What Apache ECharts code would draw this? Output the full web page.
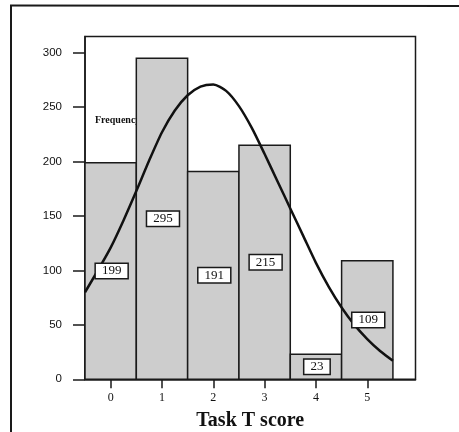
<!DOCTYPE html>
<html>
<head>
<meta charset="utf-8">
<script src="https://cdn.jsdelivr.net/npm/echarts@6/dist/echarts.min.js"></script>
<style>html,body{margin:0;padding:0;background:#fff}#c{width:459px;height:432px}</style>
</head>
<body>
<div id="c"></div>
<script>
// Data
const scores = [0, 1, 2, 3, 4, 5];
const counts = [199, 295, 191, 215, 23, 109];
const xTicks = [0, 1, 2, 3, 4, 5];
const yTicks = [0, 50, 100, 150, 200, 250, 300];
// fitted normal curve
const curveX = [-0.5, -0.25, 0, 0.25, 0.5, 0.75, 1.0, 1.25, 1.5, 1.75, 2.0, 2.25, 2.5, 2.75, 3.0, 3.25, 3.5, 3.75, 4.0, 4.25, 4.5, 4.75, 5.0, 5.25, 5.5];
const curveY = [80, 100, 121, 146, 173, 201, 227, 247, 261, 269, 271, 265, 251, 231, 207, 182, 157, 132, 107, 85, 66, 50, 37, 26, 17];

const chart = echarts.init(document.getElementById('c'), null, {renderer: 'canvas'});

const barData = scores.map((s, i) => [s, counts[i]]);
const curveData = curveX.map((x, i) => [x, curveY[i]]);

const option = {
  animation: false,
  backgroundColor: '#fff',
  grid: {
    left: 85, top: 36.5, right: 43.5, bottom: 52.7,
    outerBoundsMode: 'none', containLabel: false,
    show: true, borderColor: '#1a1a1a', borderWidth: 1.5, backgroundColor: 'transparent'
  },
  xAxis: {
    type: 'value', min: -0.5, max: 5.94,
    name: 'Task T score', nameLocation: 'middle', nameGap: 32,
    nameTextStyle: {fontFamily: 'Liberation Serif', fontWeight: 'bold', fontSize: 20, color: '#111'},
    axisLine: {show: true, onZero: false, lineStyle: {color: '#1a1a1a', width: 1.5}},
    axisTick: {show: true, customValues: xTicks, length: 9, lineStyle: {color: '#1a1a1a', width: 1.5}},
    axisLabel: {customValues: xTicks, margin: 13, fontFamily: 'Liberation Serif', fontSize: 12, color: '#111'},
    splitLine: {show: false}
  },
  yAxis: {
    type: 'value', min: 0, max: 315,
    axisLine: {show: true, onZero: false, lineStyle: {color: '#1a1a1a', width: 1.5}},
    axisTick: {show: true, customValues: yTicks, length: 12, lineStyle: {color: '#1a1a1a', width: 1.5}},
    axisLabel: {customValues: yTicks, margin: 23, fontFamily: 'Liberation Sans', fontSize: 11.5, color: '#111'},
    splitLine: {show: false}
  },
  graphic: [
    {type: 'text', z: 0, left: 95, top: 115, style: {text: 'Frequency', font: 'bold 10px "Liberation Serif"', fill: '#111'}},
    {type: 'line', z: 10, shape: {x1: 11, y1: 5.5, x2: 11, y2: 432}, style: {stroke: '#1a1a1a', lineWidth: 2}},
    {type: 'line', z: 10, shape: {x1: 10, y1: 5.5, x2: 459, y2: 6}, style: {stroke: '#1a1a1a', lineWidth: 2}}
  ],
  series: [
    {
      type: 'custom', z: 2,
      data: barData,
      renderItem: function (params, api) {
        const x = api.value(0), v = api.value(1);
        const p0 = api.coord([x - 0.5, v]);
        const p1 = api.coord([x + 0.5, 0]);
        return {
          type: 'rect',
          shape: {x: p0[0], y: p0[1], width: p1[0] - p0[0], height: p1[1] - p0[1]},
          style: {fill: '#cdcdcd', stroke: '#1a1a1a', lineWidth: 1.5}
        };
      }
    },
    {
      type: 'line', z: 3,
      data: curveData, smooth: 0.25, showSymbol: false, symbol: 'none',
      lineStyle: {color: '#111', width: 2.5}
    },
    {
      type: 'custom', z: 5,
      data: barData,
      renderItem: function (params, api) {
        const x = api.value(0), v = api.value(1);
        const p = api.coord([x, v / 2]);
        return {
          type: 'text',
          x: p[0] + 1, y: p[1],
          style: {
            text: String(v), font: '13px "Liberation Serif"', fill: '#111',
            align: 'center', verticalAlign: 'middle',
            backgroundColor: '#fff', borderColor: '#1a1a1a', borderWidth: 1.5,
            padding: [1, 6, 0, 6]
          }
        };
      }
    }
  ]
};
chart.setOption(option);
</script>
</body>
</html>
